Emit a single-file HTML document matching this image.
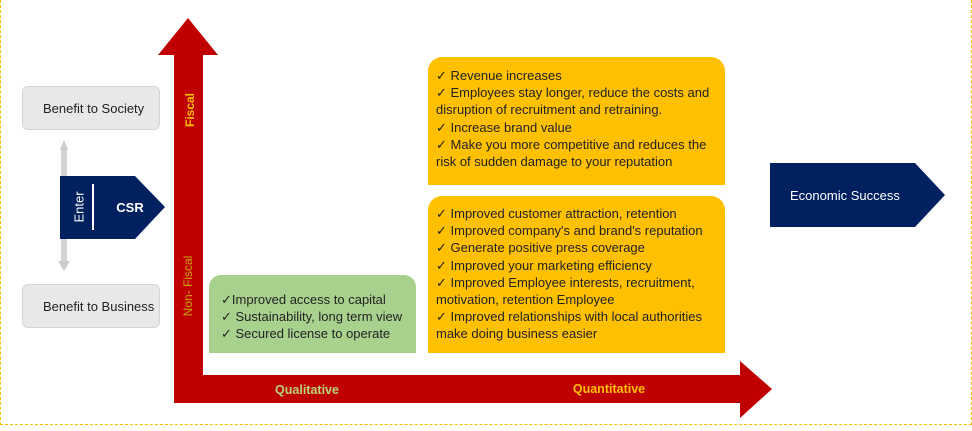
<!DOCTYPE html>
<html><head><style>
body{margin:0;width:972px;height:431px;position:relative;background:#fff;font-family:"Liberation Sans",sans-serif;overflow:hidden}
.a{position:absolute}
.box{position:absolute;border-radius:12px;color:#222;font-size:13px;line-height:17.2px;box-sizing:border-box}
.scroll{position:absolute;background:#e8e8e8;border:1px solid #d4d4d4;border-radius:6px;font-size:13px;color:#222;box-sizing:border-box;padding-left:20px;display:flex;align-items:center}
</style></head><body>
<div class="a" style="left:0;top:0;width:970px;height:424px;border:1px dashed #f2c200;border-top:none"></div>
<svg class="a" style="left:0;top:0" width="972" height="431">
 <polygon points="174,55 158,55 188,18 218,55 203,55 203,375 740,375 740,361 772,389 740,418 740,403 174,403" fill="#c00000"/>
 <polygon points="60,176 135,176 165,207 135,239 60,239" fill="#002060"/>
 <line x1="93" y1="184" x2="93" y2="230" stroke="#fff" stroke-width="2"/>
 <polygon points="770,163 915,163 945,195 915,227 770,227" fill="#002060"/>
 <polygon points="60,150 64,140 68,150" fill="#ccc"/>
 <rect x="61" y="150" width="6" height="26" fill="#d4d4d4"/>
 <rect x="61" y="239" width="6" height="22" fill="#d4d4d4"/>
 <polygon points="58,261 64,271 70,261" fill="#ccc"/>
 <text x="80" y="207" transform="rotate(-90 80 207)" text-anchor="middle" dominant-baseline="middle" fill="#fff" font-size="13">Enter</text>
 <text x="130" y="212" text-anchor="middle" fill="#fff" font-size="13" font-weight="bold">CSR</text>
 <text x="790" y="200" fill="#fff" font-size="13">Economic Success</text>
 <text x="191" y="110" transform="rotate(-90 191 110)" text-anchor="middle" dominant-baseline="middle" fill="#ffc000" font-size="12" font-weight="bold">Fiscal</text>
 <text x="189" y="286" transform="rotate(-90 189 286)" text-anchor="middle" dominant-baseline="middle" fill="#c9a800" font-size="12">Non- Fiscal</text>
 <text x="307" y="394" text-anchor="middle" fill="#b9d57a" font-size="12.5" font-weight="bold">Qualitative</text>
 <text x="609" y="393" text-anchor="middle" fill="#ffc000" font-size="12.5" font-weight="bold">Quantitative</text>
</svg>
<div class="scroll" style="left:22px;top:86px;width:138px;height:44px">Benefit to Society</div>
<div class="scroll" style="left:22px;top:284px;width:138px;height:44px">Benefit to Business</div>
<div class="box" style="left:209px;top:275px;width:207px;height:78px;background:#a9d18e;border-radius:12px 12px 0 0;padding:16px 0 0 12px">✓Improved access to capital<br>✓ Sustainability, long term view<br>✓ Secured license to operate</div>
<div class="box" style="left:428px;top:57px;width:297px;height:128px;background:#ffc000;border-radius:14px 14px 0 0;padding:10px 10px 0 8px">✓ Revenue increases<br>✓ Employees stay longer, reduce the costs and disruption of recruitment and retraining.<br>✓ Increase brand value<br>✓ Make you more competitive and reduces the risk of sudden damage to your reputation</div>
<div class="box" style="left:428px;top:196px;width:297px;height:157px;background:#ffc000;border-radius:14px 14px 0 0;padding:9px 0 0 8px">✓ Improved customer attraction, retention<br>✓ Improved company's and brand's reputation<br>✓ Generate positive press coverage<br>✓ Improved your marketing efficiency<br>✓ Improved Employee interests, recruitment, motivation, retention Employee<br>✓ Improved relationships with local authorities make doing business easier</div>
</body></html>
